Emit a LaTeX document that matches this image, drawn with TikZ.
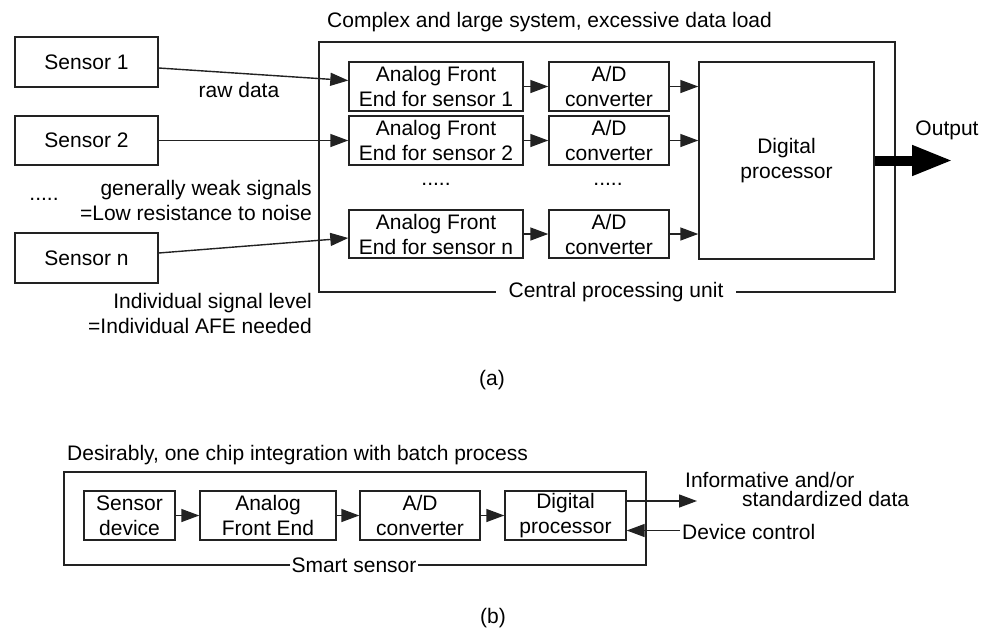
\documentclass[tikz,border=0pt]{standalone}
\usepackage{fontspec}
\setmainfont{Liberation Sans}
\usetikzlibrary{arrows.meta}
\definecolor{ln}{HTML}{222222}
\tikzset{
  box/.style={draw=ln, line width=1.4pt, rectangle, inner sep=0pt, align=center},
  txt/.style={inner sep=0pt, align=center, text=black},
  conn/.style={draw=ln, line width=1.4pt, -{Triangle[length=18pt,width=13pt]}},
  bigarrow/.style={draw=black, line width=10pt, -{Triangle[length=41pt,width=28pt]}},
}
\begin{document}
\begin{tikzpicture}[x=1pt,y=-1pt,font=\fontsize{21}{25}\selectfont]
\useasboundingbox (0,0) rectangle (992,627);
% ---------- (a) ----------
\node[txt, anchor=west] (ttl) at (327,22) {Complex and large system, excessive data load};
\node[box, minimum width=576pt, minimum height=250pt] (cpu) at (607,167) {};
\node[txt, fill=white, inner xsep=13pt, inner ysep=2pt] (cpul) at (616,292) {Central processing unit};

\node[box, minimum width=143pt, minimum height=50pt] (s1) at (86.5,62) {Sensor 1};
\node[box, minimum width=143pt, minimum height=49pt] (s2) at (86.5,140.5) {Sensor 2};
\node[box, minimum width=143pt, minimum height=50pt] (sn) at (86.5,258) {Sensor n};

\node[box, minimum width=174pt, minimum height=49pt] (afe1) at (436,86.5) {Analog Front\\End for sensor 1};
\node[box, minimum width=174pt, minimum height=49pt] (afe2) at (436,140.5) {Analog Front\\End for sensor 2};
\node[box, minimum width=174pt, minimum height=48pt] (afen) at (436,234) {Analog Front\\End for sensor n};

\node[box, minimum width=120pt, minimum height=49pt] (ad1) at (609,86.5) {A/D\\converter};
\node[box, minimum width=120pt, minimum height=49pt] (ad2) at (609,140.5) {A/D\\converter};
\node[box, minimum width=120pt, minimum height=48pt] (adn) at (609,234) {A/D\\converter};

\node[box, minimum width=175pt, minimum height=197pt] (dp) at (786.5,160.5) {Digital\\processor};

\node[txt, anchor=base] (dA) at (436,185) {.....};
\node[txt, anchor=base] (dB) at (608,185) {.....};
\node[txt, anchor=base] (dS) at (44,200) {.....};

\node[txt] (raw) at (239,90) {raw data};
\node[txt, anchor=east, align=right] (weak) at (312,200.5) {generally weak signals\\=Low resistance to noise};
\node[txt, anchor=east, align=right] (indiv) at (312,313.5) {Individual signal level\\=Individual AFE needed};

\draw[conn] ([yshift=-6pt]s1.east) -- ([yshift=6pt]afe1.west);
\draw[conn] (s2.east) -- (afe2.west);
\draw[conn] ([yshift=5pt]sn.east) -- ([yshift=-4pt]afen.west);

\draw[conn] (afe1) -- (ad1);
\draw[conn] (afe2) -- (ad2);
\draw[conn] (afen) -- (adn);
\draw[conn] (ad1.east) -- (ad1.east -| dp.west);
\draw[conn] (ad2.east) -- (ad2.east -| dp.west);
\draw[conn] (adn.east) -- (adn.east -| dp.west);

\coordinate (outc) at (953,160.5);
\draw[bigarrow] (dp.east) -- (outc);
\node[txt] (outl) at (947,130) {Output};

\node[txt] (la) at (492,380) {(a)};

% ---------- (b) ----------
\node[txt, anchor=west] (ttlb) at (67,455) {Desirably, one chip integration with batch process};
\node[box, minimum width=582pt, minimum height=93pt] (ss) at (355,518.5) {};
\node[txt, fill=white, inner xsep=2pt, inner ysep=2pt] (ssl) at (354,565) {Smart sensor};

\node[box, minimum width=91pt, minimum height=49pt] (sd) at (129.5,515.5) {Sensor\\device};
\node[box, minimum width=136pt, minimum height=49pt] (afeb) at (268,515.5) {Analog\\Front End};
\node[box, minimum width=120pt, minimum height=49pt] (adb) at (420,515.5) {A/D\\converter};
\node[box, minimum width=121pt, minimum height=49pt] (dpb) at (565.5,515.5) {Digital\\processor};

\draw[conn] (sd) -- (afeb);
\draw[conn] (afeb) -- (adb);
\draw[conn] (adb) -- (dpb);

\coordinate (infoend) at (697,501);
\coordinate (ctlstart) at (680,530.5);
\draw[conn] ([yshift=14.5pt]dpb.east) -- (infoend);
\draw[conn] (ctlstart) -- ([yshift=-15pt]dpb.east);

\node[txt, anchor=west] (inf1) at (685,480) {Informative and/or};
\node[txt, anchor=west] (inf2) at (742,499) {standardized data};
\node[txt, anchor=west] (dctl) at (682,532) {Device control};

\node[txt] (lb) at (493,618) {(b)};
\end{tikzpicture}
\end{document}
